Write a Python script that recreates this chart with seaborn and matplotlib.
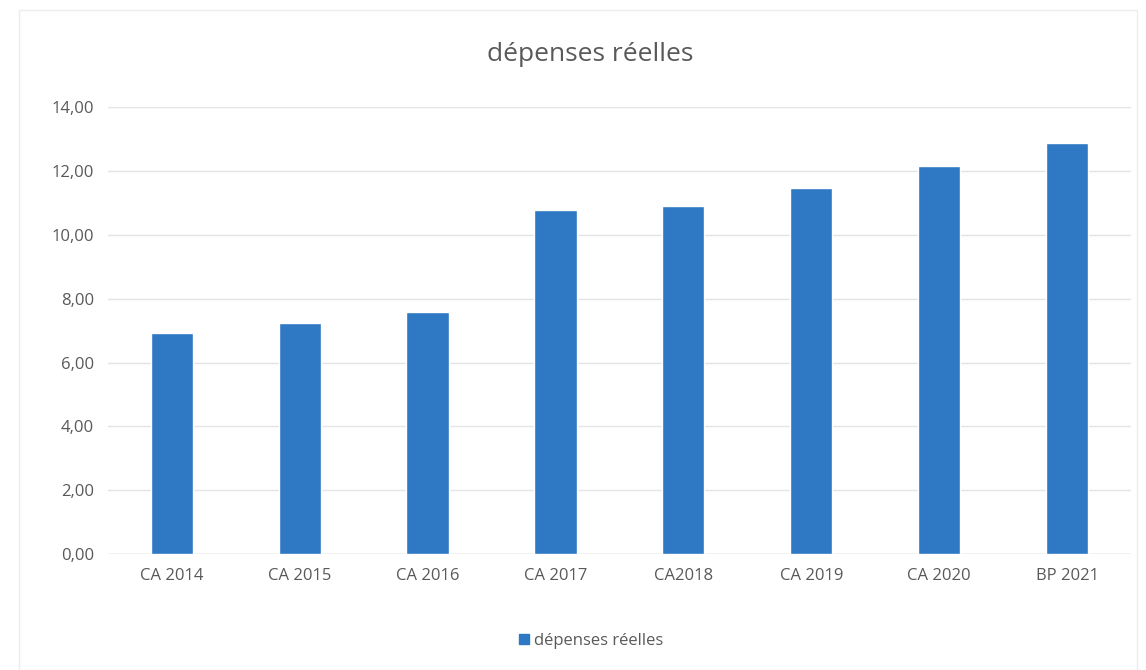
import matplotlib
matplotlib.use('Agg')
import matplotlib.pyplot as plt
import pandas as pd
import seaborn as sns
from matplotlib.lines import Line2D
from matplotlib.ticker import FuncFormatter

categories = ['CA 2014', 'CA 2015', 'CA 2016', 'CA 2017', 'CA2018', 'CA 2019', 'CA 2020', 'BP 2021']
values = [6.92, 7.25, 7.58, 10.79, 10.92, 11.47, 12.17, 12.88]
series_name = 'dépenses réelles'
y_ticks = [0, 2, 4, 6, 8, 10, 12, 14]

sns.set_theme(style='white')
plt.rcParams['font.family'] = ['Liberation Sans Narrow', 'Open Sans', 'DejaVu Sans']

bar_color = '#2E78C4'
text_color = '#595959'

df = pd.DataFrame({'cat': categories, 'val': values})

fig = plt.figure(figsize=(11.46, 6.70), dpi=100)
ax = fig.add_axes([0.094, 0.173, 0.893, 0.667])

sns.barplot(data=df, x='cat', y='val', color=bar_color, width=0.33,
            saturation=1, ax=ax, zorder=3)

ax.set_ylim(0, 14)
ax.set_yticks(y_ticks)
ax.yaxis.set_major_formatter(FuncFormatter(lambda v, p: f'{v:.2f}'.replace('.', ',')))
ax.grid(axis='y', color='#e4e4e4', linewidth=1, zorder=0)
ax.grid(axis='x', visible=False)
for s in ax.spines.values():
    s.set_visible(False)
ax.axhline(0, color='#d9d9d9', linewidth=1, zorder=2)
ax.tick_params(axis='both', length=0, labelsize=12, colors=text_color, pad=10)
ax.set_xlabel('')
ax.set_ylabel('')

fig.text(0.515, 0.918, series_name, ha='center', va='center', fontsize=19, color=text_color)

handle = Line2D([0], [0], marker='s', color='none', markerfacecolor=bar_color,
                markeredgecolor=bar_color, markersize=7)
fig.legend([handle], [series_name], loc='center', bbox_to_anchor=(0.515, 0.043),
           frameon=False, fontsize=12, labelcolor=text_color, handletextpad=0.2,
           handlelength=0.8)

# faint chart-area border
fig.patches.append(plt.Rectangle((0.017, 0.0), 0.975, 0.985, transform=fig.transFigure,
                                 fill=False, edgecolor='#ececec', linewidth=1))

plt.savefig('out.png', dpi=100, facecolor='white')
plt.close()
